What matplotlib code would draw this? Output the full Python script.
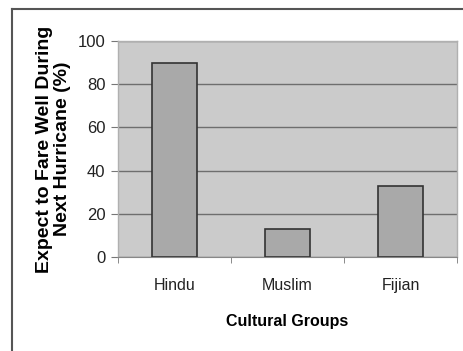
import numpy as np
import matplotlib.pyplot as plt
from matplotlib.lines import Line2D

groups = ["Hindu", "Muslim", "Fijian"]
fare_well_pct = [90, 13, 33]
y_ticks = [0, 20, 40, 60, 80, 100]

plt.rcParams['font.family'] = ['Liberation Sans', 'DejaVu Sans']

fig = plt.figure(figsize=(4.64, 3.51), dpi=100)
fig.patch.set_facecolor("white")

# outer border (only top and left edges are visible)
fig.add_artist(Line2D([12 / 464, 1.0], [1 - 9 / 351, 1 - 9 / 351],
                      transform=fig.transFigure, color="#555555", lw=1.5))
fig.add_artist(Line2D([12 / 464, 12 / 464], [1 - 9 / 351, 0.0],
                      transform=fig.transFigure, color="#555555", lw=1.5))

ax = fig.add_axes([118 / 464, 1 - 257 / 351, 339 / 464, 216 / 351])
ax.set_facecolor("#cbcbcb")

x = np.arange(len(groups))
ax.bar(x, fare_well_pct, width=0.4, color="#a9a9a9", edgecolor="#333333",
       linewidth=1.2, zorder=3)

ax.set_xlim(-0.5, len(groups) - 0.5)
ax.set_ylim(0, 100)
ax.set_yticks(y_ticks)
ax.set_yticklabels([str(v) for v in y_ticks], fontsize=12, color="#222222")
ax.yaxis.grid(True, color="#6e6e6e", linewidth=1.0, zorder=1)

ax.set_xticks(x)
ax.set_xticklabels(groups, fontsize=11.5, color="#222222")
ax.set_xticks(np.arange(len(groups) + 1) - 0.5, minor=True)
ax.tick_params(axis="x", which="major", length=0, pad=15)
ax.tick_params(axis="x", which="minor", length=4, color="#777777")
ax.tick_params(axis="y", length=5, color="#777777", pad=4)

for side in ["top", "right", "left"]:
    ax.spines[side].set_color("#b0b0b0")
    ax.spines[side].set_linewidth(1.0)
ax.spines["bottom"].set_color("#888888")

ax.set_xlabel("Cultural Groups", fontsize=11.5, fontweight="bold", labelpad=15)
ax.set_ylabel("Expect to Fare Well During\nNext Hurricane (%)", fontsize=14,
              fontweight="bold", labelpad=5, linespacing=1.1)

fig.savefig("out.png", dpi=100)
